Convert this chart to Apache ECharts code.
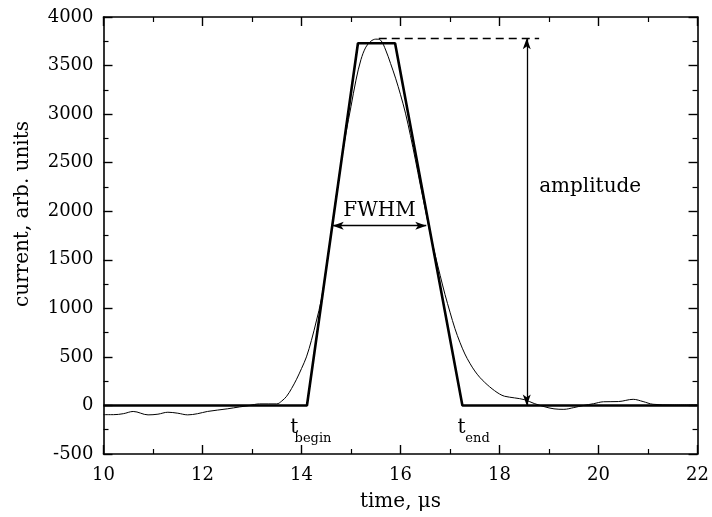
<!DOCTYPE html>
<html><head><meta charset="utf-8">
<script src="https://cdn.jsdelivr.net/npm/echarts@6/dist/echarts.min.js"></script>
<style>html,body{margin:0;padding:0;background:#fff}#c{width:712px;height:517px}</style>
</head><body><div id="c"></div>
<script>
// measured signal (time in µs, current in arb. units)
var signalT = [10.0,10.2,10.4,10.6,10.9,11.1,11.3,11.5,11.7,11.9,12.1,12.5,12.75,12.9,13.05,13.15,13.5,13.6,13.7,13.8,13.9,14.0,14.1,14.2,14.3,14.4,14.5,14.6,14.7,14.8,14.9,15.0,15.1,15.2,15.3,15.4,15.5,15.6,15.7,15.8,15.9,16.0,16.1,16.2,16.3,16.4,16.5,16.6,16.7,16.8,16.9,17.0,17.1,17.2,17.3,17.4,17.5,17.6,17.7,17.8,17.9,18.0,18.1,18.3,18.5,18.7,18.9,19.1,19.3,19.5,19.7,19.9,20.1,20.4,20.7,20.9,21.1,21.5,22.0];
var signalV = [-95,-95,-85,-62,-97,-90,-70,-80,-97,-85,-62,-35,-15,-5,10,16,16,45,95,175,270,380,500,670,870,1090,1420,1780,2150,2500,2810,3080,3350,3560,3690,3750,3772,3760,3660,3520,3370,3200,3010,2780,2530,2270,2020,1770,1550,1340,1140,960,790,650,530,435,355,290,238,192,152,118,95,78,60,20,-12,-35,-40,-22,0,18,38,40,63,40,12,5,5];
// trapezoidal fit
var fitT = [10, 14.11, 15.14, 15.89, 17.25, 22];
var fitV = [0, 0, 3730, 3730, 0, 0];
// annotations
var amplitudeV = 3780, peakT = 15.56, amplitudeT = 18.55, dashEndT = 18.8;
var halfV = 1851, fwhmStart = 14.63, fwhmEnd = 16.52;
var xTicks = [10,12,14,16,18,20,22];
var yTicks = [-500,0,500,1000,1500,2000,2500,3000,3500,4000];

var FONT = 'DejaVu Serif';
var chart = echarts.init(document.getElementById('c'), null, {renderer:'canvas'});
function zip(a,b){return a.map(function(v,i){return [v,b[i]];});}
var axisCommon = {
  axisLine:{show:true, onZero:false, lineStyle:{color:'#000', width:1.6}},
  axisTick:{show:true, inside:true, length:9, lineStyle:{color:'#000', width:1.4}},
  minorTick:{show:true, splitNumber:2, length:5, lineStyle:{color:'#000', width:1.2}},
  splitLine:{show:false}
};
function ax(extra){ return Object.assign({}, JSON.parse(JSON.stringify(axisCommon)), extra); }
chart.setOption({
  animation:false,
  grid:{left:103.5, right:13.5, top:17, bottom:63},
  xAxis:[
    ax({type:'value', min:xTicks[0], max:xTicks[xTicks.length-1], interval:2, position:'bottom',
      axisLabel:{show:true, margin:12, color:'#000', fontFamily:FONT, fontSize:18, formatter:function(v){return String(v);}},
      name:'time, μs', nameLocation:'middle', nameGap:38,
      nameTextStyle:{color:'#000', fontFamily:FONT, fontSize:20}}),
    ax({type:'value', min:xTicks[0], max:xTicks[xTicks.length-1], interval:2, position:'top',
      axisLabel:{show:false}})
  ],
  yAxis:[
    ax({type:'value', min:yTicks[0], max:yTicks[yTicks.length-1], interval:500, position:'left',
      axisLabel:{show:true, margin:10, color:'#000', fontFamily:FONT, fontSize:18, formatter:function(v){return String(v);}}}),
    ax({type:'value', min:yTicks[0], max:yTicks[yTicks.length-1], interval:500, position:'right',
      axisLabel:{show:false}})
  ],
  series:[
    {type:'line', data:zip(signalT, signalV), showSymbol:false, smooth:0.35, silent:true,
      lineStyle:{color:'#000', width:1}},
    {type:'line', data:zip(fitT, fitV), showSymbol:false, silent:true,
      lineStyle:{color:'#000', width:2.6},
      markLine:{silent:true, animation:false, label:{show:false}, symbol:['none','none'],
        data:[
          [{coord:[peakT, amplitudeV], symbol:'none', lineStyle:{type:[8,5], width:1.4, color:'#000'}},
           {coord:[dashEndT, amplitudeV], symbol:'none'}],
          [{coord:[amplitudeT, 0], symbol:'arrow', symbolSize:[6,11], lineStyle:{type:'solid', width:1.3, color:'#000'}},
           {coord:[amplitudeT, amplitudeV], symbol:'arrow', symbolSize:[6,11]}],
          [{coord:[fwhmStart, halfV], symbol:'arrow', symbolSize:[6,11], lineStyle:{type:'solid', width:1.3, color:'#000'}},
           {coord:[fwhmEnd, halfV], symbol:'arrow', symbolSize:[6,11]}]
        ]}}
  ]
});
function px(t,v){return chart.convertToPixel({xAxisIndex:0,yAxisIndex:0},[t,v]);}
function txt(t,v,s,size,align,extra){
  var p=px(t,v);
  return Object.assign({type:'text', x:p[0], y:p[1], silent:true,
    style:{text:s, fill:'#000', font:size+'px "'+FONT+'"', textAlign:align, textVerticalAlign:'middle'}}, extra||{});
}
chart.setOption({graphic:[
  txt(15.575, 2005, 'FWHM', 20, 'center'),
  txt(18.80, 2252, 'amplitude', 20, 'left'),
  txt(13.77, -230, 't', 20, 'left'),
  txt(13.86, -338, 'begin', 13, 'left'),
  txt(17.153, -230, 't', 20, 'left'),
  txt(17.31, -338, 'end', 13, 'left'),
  {type:'text', x:23, y:214, rotation:Math.PI/2, silent:true,
    style:{text:'current, arb. units', fill:'#000', font:'20px "'+FONT+'"', textAlign:'center', textVerticalAlign:'middle'}}
]});
</script></body></html>
